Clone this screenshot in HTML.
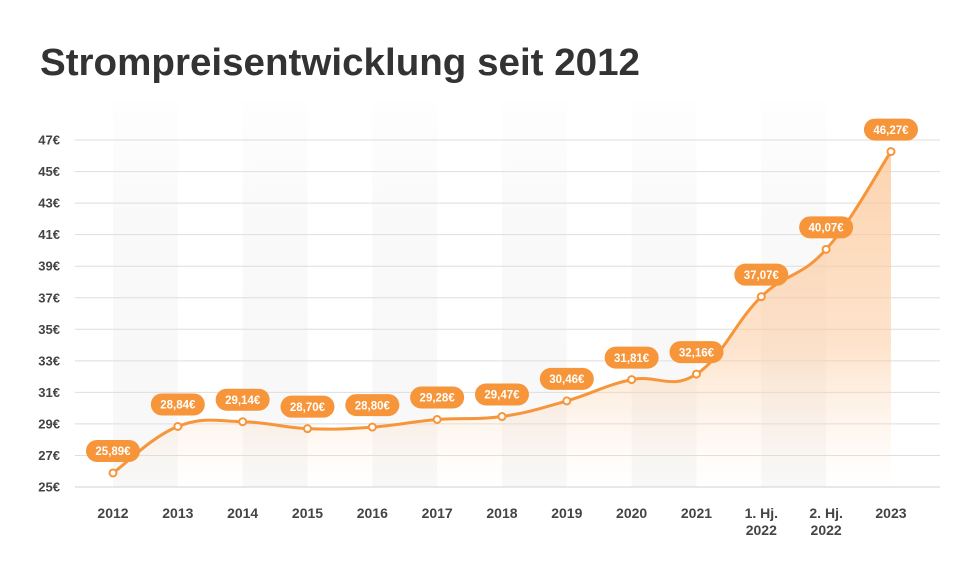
<!DOCTYPE html><html><head><meta charset="utf-8"><style>body{margin:0;background:#fff}svg{display:block}text{font-family:"Liberation Sans",Arial,sans-serif}</style></head><body>
<svg id="s" width="969" height="561" xmlns="http://www.w3.org/2000/svg">
<defs>
<linearGradient id="band" x1="0" y1="100" x2="0" y2="487" gradientUnits="userSpaceOnUse"><stop offset="0" stop-color="#fbfbfb" stop-opacity="0.3"/><stop offset="0.3" stop-color="#f9f9f9"/><stop offset="1" stop-color="#f8f8f8"/></linearGradient>
<linearGradient id="fill" x1="0" y1="140" x2="0" y2="487" gradientUnits="userSpaceOnUse"><stop offset="0" stop-color="#fcc89a" stop-opacity="0.8"/><stop offset="0.6" stop-color="#fcc89a" stop-opacity="0.5"/><stop offset="1" stop-color="#fde2c8" stop-opacity="0"/></linearGradient>
</defs>
<text x="40" y="75" font-size="38" font-weight="bold" fill="#333" textLength="600" lengthAdjust="spacingAndGlyphs">Strompreisentwicklung seit 2012</text>
<g id="g"></g>
</svg>
<script>
var g=document.getElementById('g'),h='';
var vals=[25.89,28.84,29.14,28.70,28.80,29.28,29.47,30.46,31.81,32.16,37.07,40.07,46.27];
var labs=['2012','2013','2014','2015','2016','2017','2018','2019','2020','2021','1. Hj.|2022','2. Hj.|2022','2023'];
function X(i){return 113+i*64.83}function Y(v){return 487-(v-25)*15.77}
for(var i=0;i<12;i+=2)h+='<rect x="'+X(i)+'" y="100" width="64.83" height="387" fill="url(#band)"/>';
for(var k=0;k<12;k++){var v=25+2*k,y=Y(v);h+='<line x1="75" x2="940" y1="'+y+'" y2="'+y+'" stroke="'+(k==0?'#d0d0d0':'#dedede')+'" stroke-width="1"/>';
h+='<text x="60" y="'+(y+4.5)+'" font-size="13" font-weight="bold" fill="#444" text-anchor="end">'+v+'€</text>';}
var P=vals.map(function(v,i){return[X(i),Y(v)]});
var d='M'+P[0][0]+','+P[0][1];
for(var i=0;i<P.length-1;i++){var p0=P[Math.max(0,i-1)],p1=P[i],p2=P[i+1],p3=P[Math.min(P.length-1,i+2)],t=0.2;
d+=' C'+(p1[0]+(p2[0]-p0[0])*t)+','+(p1[1]+(p2[1]-p0[1])*t)+' '+(p2[0]-(p3[0]-p1[0])*t)+','+(p2[1]-(p3[1]-p1[1])*t)+' '+p2[0]+','+p2[1];}
h+='<path d="'+d+' L'+P[12][0]+',487 L'+P[0][0]+',487Z" fill="url(#fill)"/>';
h+='<path d="'+d+'" fill="none" stroke="#f7953a" stroke-width="3"/>';
P.forEach(function(p,i){h+='<circle cx="'+p[0]+'" cy="'+p[1]+'" r="3.5" fill="#fff" stroke="#f7953a" stroke-width="2"/>';
var cy=p[1]-22;h+='<rect x="'+(p[0]-27)+'" y="'+(cy-11)+'" width="54" height="22" rx="11" fill="#f7953a"/>';
h+='<text x="'+p[0]+'" y="'+(cy+4.2)+'" font-size="11.5" font-weight="bold" fill="#fff" text-anchor="middle">'+vals[i].toFixed(2).replace('.',',')+'€</text>';
var l=labs[i].split('|');l.forEach(function(s,j){h+='<text x="'+p[0]+'" y="'+(518+j*17)+'" font-size="14" font-weight="bold" fill="#444" text-anchor="middle">'+s+'</text>';});});
g.innerHTML=h;
</script>
</body></html>
